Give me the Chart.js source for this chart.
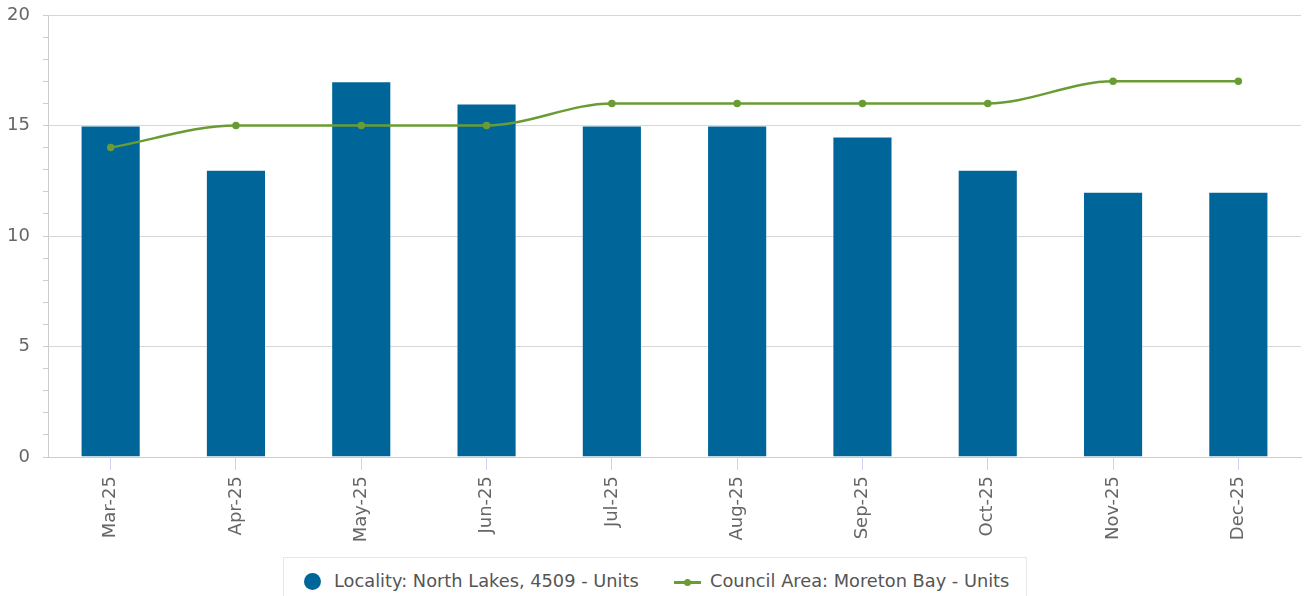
<!DOCTYPE html>
<html>
<head>
<meta charset="utf-8">
<script src="https://cdn.jsdelivr.net/npm/chart.js@4/dist/chart.umd.min.js"></script>
<style>
  html, body { margin: 0; padding: 0; background: #fff; }
  #wrap { position: relative; width: 1306px; height: 596px; overflow: hidden; }
  #legend {
    position: absolute; left: 283px; top: 557px; width: 744px; height: 48px;
    border: 1px solid #e6e6e6; background: #fff; box-sizing: border-box;
    font-family: "DejaVu Sans", sans-serif; font-size: 17.8px; color: #555;
  }
  .item { position: absolute; top: 12px; white-space: nowrap; }
  .dot { position: absolute; width: 17px; height: 17px; border-radius: 50%; background: #006699; top: 3px; }
  .ln { position: absolute; width: 27px; height: 3px; background: #6a9c34; top: 11px; }
  .ln::after { content: ""; position: absolute; left: 10px; top: -2px; width: 7px; height: 7px; border-radius: 50%; background: #6a9c34; }
</style>
</head>
<body>
<div id="wrap">
  <canvas id="chart" width="1306" height="596"></canvas>
  <div id="legend">
    <div class="item" style="left:20px"><span class="dot"></span><span style="margin-left:30px">Locality: North Lakes, 4509 - Units</span></div>
    <div class="item" style="left:390px"><span class="ln"></span><span style="margin-left:36px">Council Area: Moreton Bay - Units</span></div>
  </div>
</div>
<script>
// Data
const months = ['Mar-25', 'Apr-25', 'May-25', 'Jun-25', 'Jul-25', 'Aug-25', 'Sep-25', 'Oct-25', 'Nov-25', 'Dec-25'];
const localityUnits = [15, 13, 17, 16, 15, 15, 14.5, 13, 12, 12];
const councilUnits = [14, 15, 15, 15, 16, 16, 16, 16, 17, 17];

const barColor = '#006699';
const lineColor = '#6a9c34';
const font = { family: 'DejaVu Sans', size: 18 };

new Chart(document.getElementById('chart'), {
    type: 'bar',
    data: {
        labels: months,
        datasets: [{
            type: 'line',
            label: 'Council Area: Moreton Bay - Units',
            data: councilUnits,
            borderColor: lineColor,
            backgroundColor: lineColor,
            borderWidth: 2.5,
            pointRadius: 2.5,
            pointHoverRadius: 2.5,
            cubicInterpolationMode: 'monotone',
            order: 0
        }, {
            label: 'Locality: North Lakes, 4509 - Units',
            data: localityUnits,
            backgroundColor: barColor,
            borderColor: 'rgba(255,255,255,0.5)',
            borderWidth: 1,
            categoryPercentage: 1,
            barPercentage: 0.48,
            order: 1
        }]
    },
    options: {
        responsive: false,
        animation: false,
        layout: { padding: { top: 15, right: 3, left: 0, bottom: 0 } },
        plugins: { legend: { display: false }, tooltip: { enabled: false } },
        scales: {
            x: {
                grid: { offset: false, drawOnChartArea: false, tickLength: 13, tickColor: '#ccd6eb' },
                border: { color: '#cccccc' },
                ticks: { font: font, color: '#666', maxRotation: 90, minRotation: 90, padding: 6 },
                afterFit: s => { s.height = 596 - 457; s.paddingLeft = 0; s.paddingRight = 0; }
            },
            y: {
                min: 0,
                max: 20,
                grid: {
                    tickLength: 5,
                    color: c => (c.tick && c.tick.value % 5 === 0) ? '#d6d6d6' : 'transparent',
                    tickColor: '#cccccc'
                },
                border: { color: '#cccccc' },
                ticks: {
                    stepSize: 1,
                    font: font,
                    color: '#666',
                    padding: 13,
                    autoSkip: false,
                    callback: v => (v % 5 === 0 ? v : '')
                },
                afterFit: s => { s.width = 48; s.paddingTop = 0; s.paddingBottom = 0; }
            }
        }
    }
});
</script>
</body>
</html>
